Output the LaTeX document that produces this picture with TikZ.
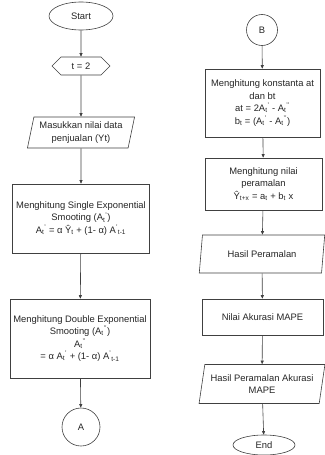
\documentclass[tikz,border=0pt]{standalone}
\usepackage{fontspec}
\setmainfont{Liberation Sans}
\usetikzlibrary{arrows.meta,shapes.geometric,shapes.symbols}

\newcommand{\Aprime}[1]{A\textsubscript{t}\textsuperscript{#1}}

\begin{document}
\begin{tikzpicture}[x=1pt,y=-1pt,every node/.style={font=\fontsize{9.4}{12.5}\selectfont,text=black!85,align=center,inner sep=0pt},
  terminal/.style={ellipse,draw=black!75,line width=0.6pt,fill=white},
  prep/.style={signal,signal to=west and east,signal pointer angle=90,draw=black!75,line width=0.6pt,fill=white},
  io/.style={trapezium,trapezium left angle=75,trapezium right angle=105,trapezium stretches=true,draw=black!75,line width=0.6pt,fill=white},
  process/.style={rectangle,draw=black!75,line width=0.6pt,fill=white},
  connector/.style={circle,draw=black!75,line width=0.6pt,fill=white},
  flow/.style={draw=black!75,line width=0.6pt,-{Triangle[length=3.5pt,width=3pt]}}]
\useasboundingbox (0,0) rectangle (324,455);
% left column
\node[terminal,minimum width=64,minimum height=28] (start) at (81,16) {Start};
\node[prep,minimum width=58,minimum height=18] (init) at (81,66) {t = 2};
\node[io,minimum width=108,minimum height=31] (input) at (81,132.5) {Masukkan nilai data\\penjualan (Yt)};
\node[process,minimum width=137,minimum height=69] (single) at (81,218.5) {Menghitung Single Exponential\\Smooting (\Aprime{'})\\\Aprime{'} = α Ŷ\textsubscript{t} + (1- α) A\textsuperscript{'}\textsubscript{t-1}};
\node[process,minimum width=140,minimum height=79] (double) at (80,338.5) {Menghitung Double Exponential\\Smooting (\Aprime{'{}'})\\\Aprime{'{}'}\\= α \Aprime{'} + (1- α) A\textsuperscript{'}\textsubscript{t-1}};
\node[connector,minimum size=38] (conA) at (81,427) {A};
% right column
\node[connector,minimum size=31] (conB) at (262,30) {B};
\node[process,minimum width=115,minimum height=68] (const) at (262.5,103) {Menghitung konstanta at\\dan bt\\at =  2\Aprime{'} - \Aprime{'{}'}\\b\textsubscript{t} = (\Aprime{'} - \Aprime{'{}'})};
\node[process,minimum width=117,minimum height=52] (fcast) at (263.5,184) {Menghitung nilai\\peramalan\\Ŷ\textsubscript{t+x} = a\textsubscript{t} + b\textsubscript{t} x};
\node[io,minimum width=126,minimum height=38] (result) at (262,254) {Hasil Peramalan};
\node[process,minimum width=121,minimum height=36] (mape) at (262.5,317) {Nilai Akurasi MAPE};
\node[io,minimum width=126,minimum height=39] (output) at (262,384) {Hasil Peramalan Akurasi\\MAPE};
\node[terminal,minimum width=62,minimum height=20] (stop) at (264,445) {End};
\draw[flow] (start) -- (init);
\draw[flow] (init) -- (input);
\draw[flow] (input) -- (single);
\draw[flow] (single) -- (double);
\draw[flow] (double) -- (conA);
\draw[flow] (conB) -- (const);
\draw[flow] (const) -- (fcast);
\draw[flow] (fcast) -- (result);
\draw[flow] (result) -- (mape);
\draw[flow] (mape) -- (output);
\draw[flow] (output) -- (stop);
\end{tikzpicture}
\end{document}
